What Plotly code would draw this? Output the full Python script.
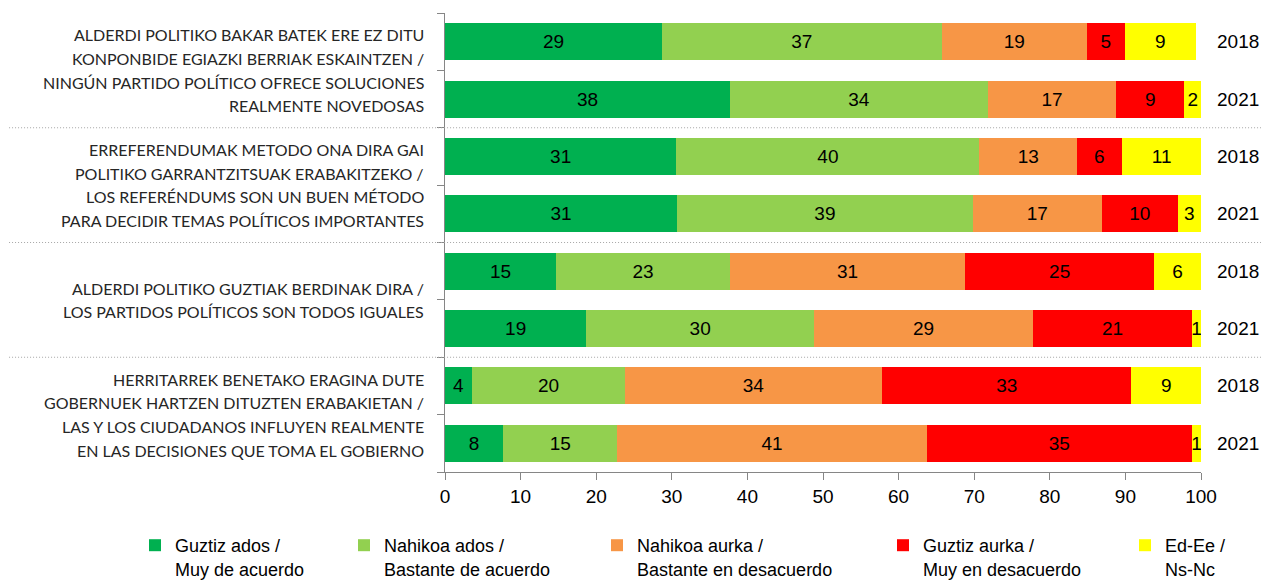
import plotly.graph_objects as go

# ---- data ----
questions = [
    ["ALDERDI POLITIKO BAKAR BATEK ERE EZ DITU",
     "KONPONBIDE EGIAZKI BERRIAK ESKAINTZEN /",
     "NINGÚN PARTIDO POLÍTICO OFRECE SOLUCIONES",
     "REALMENTE NOVEDOSAS"],
    ["ERREFERENDUMAK METODO ONA DIRA GAI",
     "POLITIKO GARRANTZITSUAK ERABAKITZEKO /",
     "LOS REFERÉNDUMS SON UN BUEN MÉTODO",
     "PARA DECIDIR TEMAS POLÍTICOS IMPORTANTES"],
    ["ALDERDI POLITIKO GUZTIAK BERDINAK DIRA /",
     "LOS PARTIDOS POLÍTICOS SON TODOS IGUALES"],
    ["HERRITARREK BENETAKO ERAGINA DUTE",
     "GOBERNUEK HARTZEN DITUZTEN ERABAKIETAN /",
     "LAS Y LOS CIUDADANOS INFLUYEN REALMENTE",
     "EN LAS DECISIONES QUE TOMA EL GOBIERNO"],
]
years = ["2018", "2021"]

series_names = [
    "Guztiz ados /<br>Muy de acuerdo",
    "Nahikoa ados /<br>Bastante de acuerdo",
    "Nahikoa aurka /<br>Bastante en desacuerdo",
    "Guztiz aurka /<br>Muy en desacuerdo",
    "Ed-Ee /<br>Ns-Nc",
]
# rows in order: Q1-2018, Q1-2021, Q2-2018, Q2-2021, Q3-2018, Q3-2021, Q4-2018, Q4-2021
guztiz_ados   = [28.7, 37.7, 30.6, 30.7, 14.7, 18.7, 3.6, 7.7]
nahikoa_ados  = [37.0, 34.1, 40.1, 39.1, 23.0, 30.1, 20.2, 15.1]
nahikoa_aurka = [19.2, 17.0, 12.9, 17.1, 31.1, 29.0, 34.0, 40.9]
guztiz_aurka  = [5.0, 9.0, 5.9, 10.0, 25.0, 21.0, 33.0, 35.1]
ed_ee         = [9.4, 2.2, 10.6, 3.1, 6.2, 1.2, 9.2, 1.2]

series_values = [guztiz_ados, nahikoa_ados, nahikoa_aurka, guztiz_aurka, ed_ee]
colors = ["#00B050", "#92D050", "#F79646", "#FF0000", "#FFFF00"]

x_ticks = list(range(0, 101, 10))

# ---- figure geometry (page has an 8px body margin) ----
OFF = 8
W, H = 1269 - OFF, 581 - OFF
PLOT_L, PLOT_R, PLOT_T, PLOT_B = 444.5, 1201.5, 13, 472   # screen px
L = PLOT_L - OFF
R = W - (PLOT_R - OFF)
T = PLOT_T - OFF
B = H - (PLOT_B - OFF)
plot_w = PLOT_R - PLOT_L
n_rows = len(questions) * len(years)
row_px = (PLOT_B - PLOT_T) / n_rows
row_pos = list(range(n_rows))


def paper_x(px):
    return (px - PLOT_L) / plot_w


ARIAL = "Liberation Sans, Arial, sans-serif"
CALIBRI = "Lato, Carlito, Calibri, sans-serif"

fig = go.Figure()
legend_ids = ["legend", "legend2", "legend3", "legend4", "legend5"]
for name, vals, col, lg in zip(series_names, series_values, colors, legend_ids):
    fig.add_trace(go.Bar(
        x=vals, y=row_pos, orientation="h", name=name,
        marker=dict(color=col, line=dict(width=0)),
        width=0.645,
        texttemplate="%{x:.0f}", textposition="inside",
        insidetextanchor="middle",
        textfont=dict(family=ARIAL, size=19, color="#000000"),
        legend=lg, hoverinfo="skip",
    ))

# legends positioned individually (container px)
legend_text_px = [175, 384, 637, 923, 1165]
layout_legends = {}
for lg, tx in zip(legend_ids, legend_text_px):
    layout_legends[lg] = dict(
        xref="container", yref="container",
        x=(tx - OFF - 40) / W, y=1 - (527 - OFF) / H,
        xanchor="left", yanchor="top",
        orientation="h", valign="top",
        bgcolor="rgba(0,0,0,0)", borderwidth=0,
        font=dict(family=ARIAL, size=18, color="#000000"),
        tracegroupgap=0,
    )

annotations = []
# category labels, one annotation per line, centred between their two rows
line_gap = 23.7 / row_px
for qi, lines in enumerate(questions):
    centre = qi * 2 + 0.5
    n = len(lines)
    for li, line in enumerate(lines):
        annotations.append(dict(
            x=paper_x(425), xref="paper",
            y=centre + (li - (n - 1) / 2) * line_gap, yref="y",
            text=line, showarrow=False, xanchor="right", yanchor="middle", align="right",
            font=dict(family=CALIBRI, size=16, color="#262626"),
        ))
# year labels
for r in row_pos:
    annotations.append(dict(
        x=paper_x(1216), xref="paper",
        y=r, yref="y",
        text=years[r % 2], showarrow=False, xanchor="left", yanchor="middle",
        font=dict(family=ARIAL, size=19, color="#000000"),
    ))

shapes = []
for b in [1.5, 3.5, 5.5]:
    shapes.append(dict(
        type="line", xref="paper", yref="y",
        x0=paper_x(8), x1=paper_x(1268), y0=b, y1=b,
        line=dict(color="#A6A6A6", width=1, dash="1px,2px"),
    ))

fig.update_layout(
    width=W, height=H,
    margin=dict(l=L, r=R, t=T, b=B, autoexpand=False),
    barmode="stack", bargap=0.355,
    plot_bgcolor="white", paper_bgcolor="white",
    showlegend=True,
    uniformtext=dict(minsize=19, mode="show"),
    annotations=annotations, shapes=shapes,
    **layout_legends,
)
fig.update_xaxes(
    range=[0, 100], tickvals=x_ticks, ticktext=[str(v) for v in x_ticks],
    showgrid=False, zeroline=False,
    showline=True, linecolor="#868686", linewidth=1,
    ticks="outside", ticklen=7, tickcolor="#868686",
    tickfont=dict(family=ARIAL, size=19, color="#000000"),
)
boundaries = [i - 0.5 for i in range(n_rows + 1)]
fig.update_yaxes(
    range=[n_rows - 0.5, -0.5],
    tickvals=boundaries, ticktext=["" for _ in boundaries],
    showgrid=False, zeroline=False,
    showline=True, linecolor="#868686", linewidth=1,
    ticks="outside", ticklen=7, tickcolor="#868686",
)

fig.write_html("out.html")
